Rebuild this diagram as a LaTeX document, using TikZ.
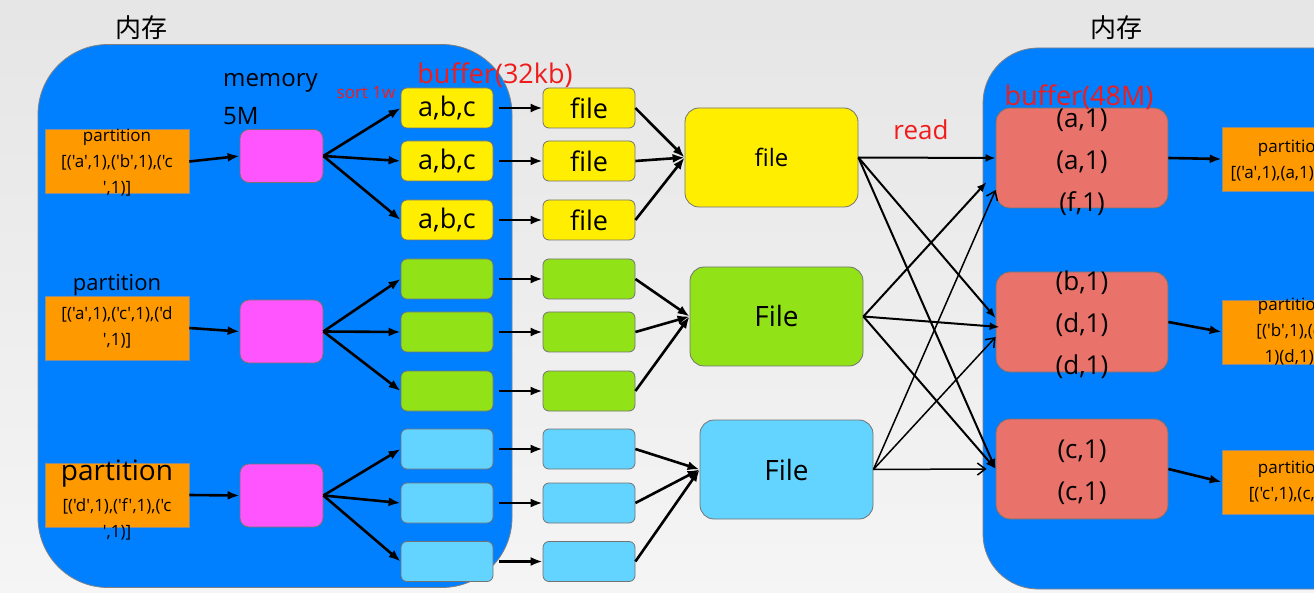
\documentclass[tikz,border=0pt]{standalone}
\usepackage{fontspec}
\newfontfamily\ui{Open Sans}
\newfontfamily\cjk{Noto Sans CJK SC}
\usetikzlibrary{arrows.meta}
\definecolor{memblue}{RGB}{0,128,255}
\definecolor{partorange}{RGB}{255,153,0}
\definecolor{sortpink}{RGB}{255,85,255}
\definecolor{bufyellow}{RGB}{255,238,0}
\definecolor{bufgreen}{RGB}{146,226,24}
\definecolor{bufcyan}{RGB}{99,211,255}
\definecolor{readred}{RGB}{233,114,106}
\definecolor{notered}{RGB}{240,28,28}
\tikzset{
  box/.style={draw=black!55,line width=0.8pt,rounded corners=6pt,inner sep=0pt},
  small/.style={box,minimum width=92pt,minimum height=40pt,font=\fontsize{27}{32}\selectfont},
  big/.style={box,rounded corners=14pt,minimum width=173pt,minimum height=99pt},
  mem/.style={draw=black!50,line width=0.8pt,fill=memblue,inner sep=0pt},
  part/.style={draw=black!45,line width=0.6pt,fill=partorange,inner sep=0pt,minimum width=144pt,minimum height=64pt},
  ptxt/.style={align=center,inner sep=0pt,font=\fontsize{17}{26}\selectfont},
  kv/.style={align=center,inner sep=0pt,font=\fontsize{26}{42}\selectfont},
  note/.style={text=notered,inner sep=0pt},
  arr/.style={-{Latex[length=12pt,width=9pt]},line width=2.6pt},
  rd/.style={-{Latex[length=10pt,width=8pt]},line width=2pt},
  rdthin/.style={-{Straight Barb[length=8pt,width=12pt]},line width=1.5pt}
}
\begin{document}
\ui
\begin{tikzpicture}[x=1pt,y=-1pt]
\useasboundingbox (0,0) rectangle (1314,593);
\shade[top color=black!10,bottom color=black!4] (0,0) rectangle (1314,593);
% memory areas
\node[mem,rounded corners=70pt,minimum width=474pt,minimum height=543pt] (memL) at (275,316) {};
\node[mem,rounded corners=55pt,minimum width=460pt,minimum height=541pt] (memR) at (1213,318.5) {};
\node[font=\cjk\fontsize{26}{30}\selectfont] (titleL) at (141,28) {内存};
\node[font=\cjk\fontsize{26}{30}\selectfont] (titleR) at (1116,28) {内存};
% partitions in
\node[part] (pL1) at (117,161.5) {};
\node[part] (pL2) at (117,328) {};
\node[part] (pL3) at (117,495) {};
\node[ptxt] (tL1) at (117,163) {partition\\{[}('a',1),('b',1),('c\\',1)]};
\node[ptxt] (tL2) at (117,311) {{\fontsize{22}{26}\selectfont partition}\\[3pt]{[}('a',1),('c',1),('d\\',1)]};
\node[ptxt] (tL3) at (117,500) {{\fontsize{28}{30}\selectfont partition}\\[5pt]{[}('d',1),('f',1),('c\\',1)]};
% sort memory
\foreach \i/\y/\h in {1/156/53,2/331.5/63,3/495.5/63}
  \node[box,fill=sortpink,minimum width=83pt,minimum height=\h pt,rounded corners=9pt] (pk\i) at (281.5,\y) {};
\node[anchor=west,align=left,inner sep=0pt,font=\fontsize{24}{38}\selectfont] (memo) at (223,99) {memory\\5M};
\node[note,font=\fontsize{17}{20}\selectfont] (sortw) at (366,93) {sort 1w};
\node[note,font=\fontsize{27}{30}\selectfont] (buf32) at (495,75) {buffer(32kb)};
% buffers and spill files
\foreach \i/\y in {1/108,2/161,3/220} {
  \node[small,fill=bufyellow] (a\i) at (447,\y) {a,b,c};
  \node[small,fill=bufyellow] (b\i) at (589,\y) {file};
}
\foreach \i/\y/\c in {4/279/bufgreen,5/332/bufgreen,6/391/bufgreen,7/449/bufcyan,8/503/bufcyan,9/561.5/bufcyan} {
  \node[small,fill=\c] (a\i) at (447,\y) {};
  \node[small,fill=\c] (b\i) at (589,\y) {};
}
% merged files
\node[big,fill=bufyellow,font=\fontsize{24}{28}\selectfont] (fY) at (771.5,157.5) {file};
\node[big,fill=bufgreen,font=\fontsize{28}{32}\selectfont] (fG) at (776.5,316.5) {File};
\node[big,fill=bufcyan,font=\fontsize{28}{32}\selectfont] (fB) at (786.5,469.5) {File};
\node[note,font=\fontsize{26}{30}\selectfont] (readl) at (921,130) {read};
% reduce side
\foreach \i/\y in {1/158,2/322,3/469}
  \node[big,fill=readred,minimum width=172pt,minimum height=100pt] (r\i) at (1082,\y) {};
\node[kv] (k1) at (1082,162) {(a,1)\\(a,1)\\(f,1)};
\node[kv] (k2) at (1082,325) {(b,1)\\(d,1)\\(d,1)};
\node[kv] (k3) at (1082,472) {(c,1)\\(c,1)};
\node[note,font=\fontsize{27}{30}\selectfont] (buf48) at (1079,97) {buffer(48M)};
\foreach \i/\y in {1/159,2/332,3/482}
  \node[part,minimum width=140pt] (pR\i) at (1292,\y) {};
\node[ptxt] (tR1) at (1292,161) {partition\\{[}('a',1),(a,1),(f,1)]};
\node[ptxt] (tR2) at (1292,332) {partition\\{[}('b',1),(d,\\1)(d,1)]};
\node[ptxt] (tR3) at (1292,482) {partition\\{[}('c',1),(c,1)]};
% arrows
\foreach \i in {1,2,3} \draw[arr] (pL\i.east) -- (pk\i.west);
\foreach \i in {1,2,3} \draw[arr] (pk1.east) -- (a\i.west);
\foreach \i in {4,5,6} \draw[arr] (pk2.east) -- (a\i.west);
\foreach \i in {7,8,9} \draw[arr] (pk3.east) -- (a\i.west);
\foreach \i in {1,...,9} \draw[arr,shorten <=6pt] (a\i.east) -- (b\i.west);
\foreach \i in {1,2,3} \draw[arr] (b\i.east) -- (fY.west);
\foreach \i in {4,5,6} \draw[arr] (b\i.east) -- (fG.west);
\foreach \i in {7,8,9} \draw[arr] (b\i.east) -- (fB.west);
\draw[rd] (fY.east) -- (r1.west);
\draw[rd] (fY.east) -- ([yshift=4pt]r2.west);
\draw[rd] (fY.east) -- (r3.west);
\draw[rd] (fG.east) -- ([xshift=-9pt,yshift=-24pt]r1.west);
\draw[rd] (fG.east) -- ([xshift=4pt,yshift=-5pt]r2.west);
\draw[rd] (fG.east) -- (r3.west);
\draw[rdthin] (fB.east) -- ([yshift=-32pt]r1.west);
\draw[rdthin] (fB.east) -- ([yshift=-15pt]r2.west);
\draw[rdthin] (fB.east) -- ([xshift=-9pt]r3.west);
\foreach \i in {1,2,3} \draw[arr] (r\i.east) -- (pR\i.west);
\end{tikzpicture}
\end{document}
